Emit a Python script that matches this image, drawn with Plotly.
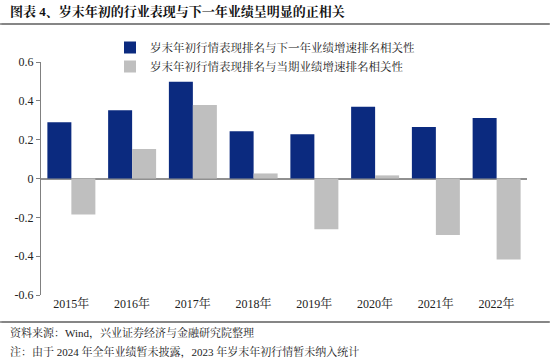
import plotly.graph_objects as go

categories = ["2015年", "2016年", "2017年", "2018年", "2019年", "2020年", "2021年", "2022年"]
next_year_corr = [0.29, 0.352, 0.498, 0.243, 0.228, 0.369, 0.265, 0.312]
current_corr = [-0.186, 0.152, 0.379, 0.026, -0.261, 0.016, -0.291, -0.417]
series_names = ["岁末年初行情表现排名与下一年业绩增速排名相关性",
                "岁末年初行情表现排名与当期业绩增速排名相关性"]
y_tickvals = [0.6, 0.4, 0.2, 0, -0.2, -0.4, -0.6]
y_ticktext = ["0.6", "0.4", "0.2", "0", "-0.2", "-0.4", "-0.6"]

title_text = "图表 4、岁末年初的行业表现与下一年业绩呈明显的正相关"
source_text = "资料来源：Wind，兴业证券经济与金融研究院整理"
note_text = "注：由于 2024 年全年业绩暂未披露，2023 年岁末年初行情暂未纳入统计"

CJK = "Liberation Serif, Noto Serif CJK SC, Noto Sans CJK SC, serif"
NAVY = "#0B2A7F"
GRAY = "#BFBFBF"
RULE = "#7F7F7F"
W, H = 550.0, 360.0


def px_x(x):
    return x / W


def px_y(y):
    return (H - y) / H


fig = go.Figure()
fig.add_trace(go.Bar(x=categories, y=next_year_corr, name=series_names[0],
                     marker=dict(color=NAVY, line=dict(width=0))))
fig.add_trace(go.Bar(x=categories, y=current_corr, name=series_names[1],
                     marker=dict(color=GRAY, line=dict(width=0))))

fig.update_layout(
    width=550, height=360,
    margin=dict(l=0, r=0, t=0, b=0, pad=0, autoexpand=False),
    paper_bgcolor="white", plot_bgcolor="white",
    barmode="group", bargap=0.21, bargroupgap=0,
    font=dict(family=CJK, size=12, color="#222222"),
    showlegend=True,
    legend=dict(x=px_x(110), y=px_y(33), xanchor="left", yanchor="top",
                bgcolor="rgba(0,0,0,0)", font=dict(size=11.5, color="#222222"),
                tracegroupgap=4, itemwidth=30),
    xaxis=dict(domain=[px_x(41), px_x(527)], showline=False, ticks="", showgrid=False,
               tickfont=dict(size=12, family=CJK), range=[-0.5, 7.5], automargin=False),
    yaxis=dict(domain=[px_y(295), px_y(62)], range=[-0.6, 0.6],
               tickvals=y_tickvals, ticktext=y_ticktext, automargin=False,
               showgrid=False, showline=True, linecolor="#808080", linewidth=1,
               ticks="outside", ticklen=4, tickcolor="#808080",
               zeroline=True, zerolinecolor="#909090", zerolinewidth=1.5,
               tickfont=dict(size=12, family=CJK)),
)

# horizontal rules above and below the chart body
for py in (24, 322):
    fig.add_shape(type="line", xref="paper", yref="paper", x0=0, x1=1,
                  y0=px_y(py), y1=px_y(py), layer="above",
                  line=dict(color=RULE, width=1.5))
    fig.add_annotation(text="", xref="paper", yref="paper", x=1, y=px_y(py),
                       showarrow=True, arrowhead=0, arrowwidth=1.5, arrowcolor=RULE,
                       ax=-550, ay=0, standoff=0, startstandoff=0)

fig.add_annotation(text="<b>" + title_text + "</b>", xref="paper", yref="paper",
                   x=px_x(8), y=px_y(11), xanchor="left", yanchor="middle",
                   showarrow=False, font=dict(size=13, family=CJK, color="#111111"))
fig.add_annotation(text=source_text, xref="paper", yref="paper",
                   x=px_x(8), y=px_y(333), xanchor="left", yanchor="middle",
                   showarrow=False, font=dict(size=11, family=CJK, color="#222222"))
fig.add_annotation(text=note_text, xref="paper", yref="paper",
                   x=px_x(8), y=px_y(352), xanchor="left", yanchor="middle",
                   showarrow=False, font=dict(size=11, family=CJK, color="#222222"))

fig.write_html("out.html", config={"displayModeBar": False},
               post_script="document.body.style.margin='0';document.body.style.overflow='hidden';")
